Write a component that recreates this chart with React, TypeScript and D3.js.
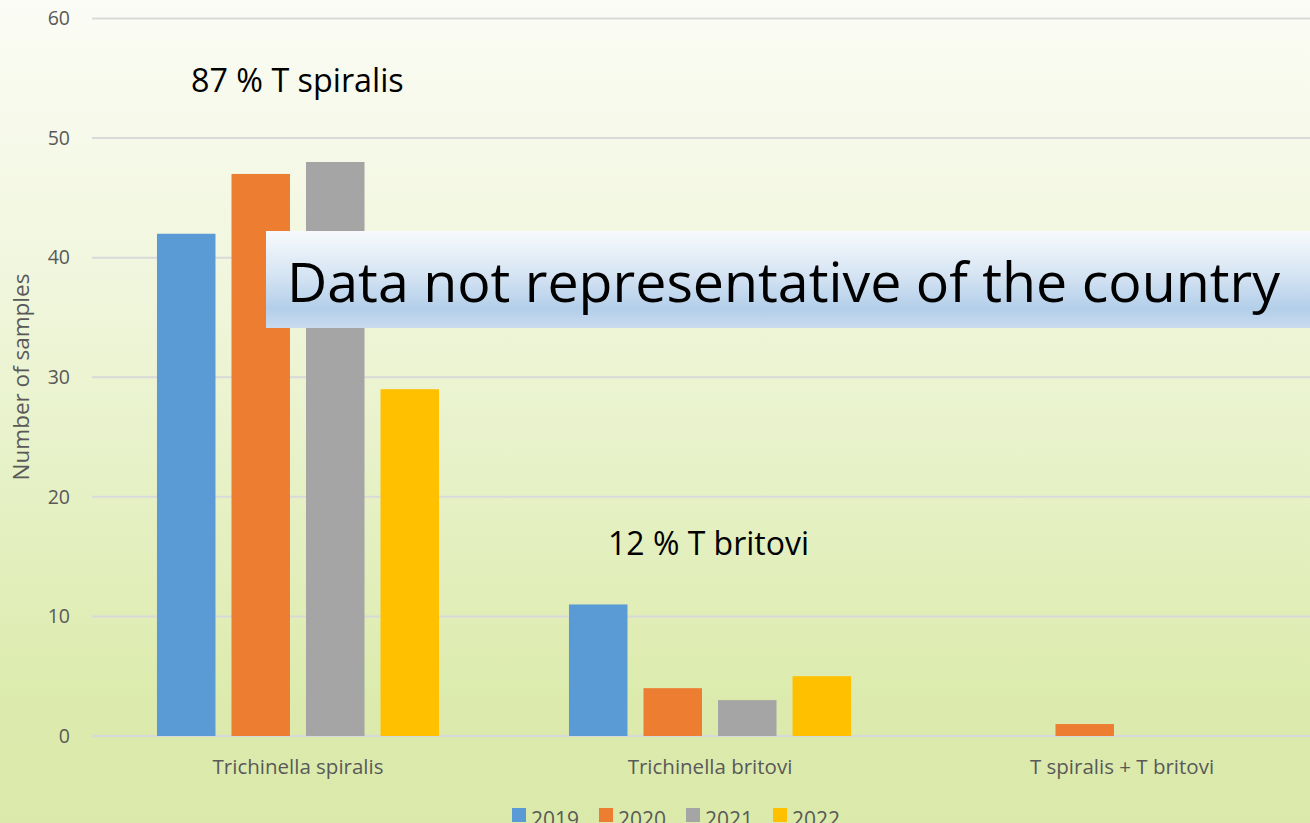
import * as d3 from "d3";

const categories = ["Trichinella spiralis", "Trichinella britovi", "T spiralis + T britovi"];
const years = ["2019", "2020", "2021", "2022"];
const values2019 = [42, 11, 0];
const values2020 = [47, 4, 1];
const values2021 = [48, 3, 0];
const values2022 = [29, 5, 0];
const yTicks = [0, 10, 20, 30, 40, 50, 60];
const colors = ["#5b9bd5", "#ed7d31", "#a5a5a5", "#ffc000"];

export default function App() {
  const W = 1310;
  const H = 823;
  const series = [values2019, values2020, values2021, values2022];

  const x = d3.scaleBand().domain(categories).range([92, 1328]);
  const xi = d3.scaleBand().domain(years).range([0, x.bandwidth()]).paddingInner(0.215).paddingOuter(0.872);
  const y = d3.scaleLinear().domain([0, 60]).range([736, 18.5]);
  const font = "'Open Sans', sans-serif";

  return (
    <svg width={W} height={H} style={{ position: "absolute", left: 0, top: 0 }}>
      <defs>
        <linearGradient id="bg" x1="0" y1="0" x2="0" y2="1">
          <stop offset="0" stopColor="#fbfcf5" />
          <stop offset="0.35" stopColor="#f0f6dc" />
          <stop offset="0.85" stopColor="#dcebad" />
          <stop offset="1" stopColor="#dbeaab" />
        </linearGradient>
        <linearGradient id="banner" x1="0" y1="0" x2="0" y2="1">
          <stop offset="0" stopColor="#f7fafd" />
          <stop offset="0.45" stopColor="#d6e4f3" />
          <stop offset="0.8" stopColor="#b3cfe9" />
          <stop offset="1" stopColor="#c9dbef" />
        </linearGradient>
      </defs>
      <rect x={0} y={0} width={W} height={H} fill="url(#bg)" />

      {yTicks.map((t) => (
        <g key={t}>
          <line x1={92} x2={W} y1={y(t)} y2={y(t)} stroke="#d9d9d9" strokeWidth={2} />
          <text x={70} y={y(t)} dy="0.35em" textAnchor="end" fontFamily={font} fontSize={19.5} fill="#595959">
            {t}
          </text>
        </g>
      ))}

      <text
        transform={`translate(29,377) rotate(-90)`}
        textAnchor="middle"
        fontFamily={font}
        fontSize={22.5}
        fill="#595959"
      >
        Number of samples
      </text>

      {series.map((vals, si) =>
        categories.map((c, ci) =>
          vals[ci] > 0 ? (
            <rect
              key={`${si}-${ci}`}
              x={(x(c) ?? 0) + (xi(years[si]) ?? 0)}
              y={y(vals[ci])}
              width={xi.bandwidth()}
              height={y(0) - y(vals[ci])}
              fill={colors[si]}
            />
          ) : null
        )
      )}

      {categories.map((c) => (
        <text
          key={c}
          x={(x(c) ?? 0) + x.bandwidth() / 2}
          y={774}
          textAnchor="middle"
          fontFamily={font}
          fontSize={20.5}
          fill="#595959"
        >
          {c}
        </text>
      ))}

      <text x={191} y={92} fontFamily={font} fontSize={32.3} fill="#000">
        87 % T spiralis
      </text>
      <text x={608} y={555} fontFamily={font} fontSize={32} fill="#000">
        12 % T britovi
      </text>

      <rect x={266} y={231} width={W - 266} height={97} fill="url(#banner)" />
      <text x={287} y={302} fontFamily={font} fontSize={55.5} fill="#000">
        Data not representative of the country
      </text>

      {years.map((yr, i) => (
        <g key={yr} transform={`translate(${512 + i * 87},0)`}>
          <rect x={0} y={808} width={14} height={14} fill={colors[i]} />
          <text x={19} y={827} fontFamily={font} fontSize={21} fill="#595959">
            {yr}
          </text>
        </g>
      ))}
    </svg>
  );
}
